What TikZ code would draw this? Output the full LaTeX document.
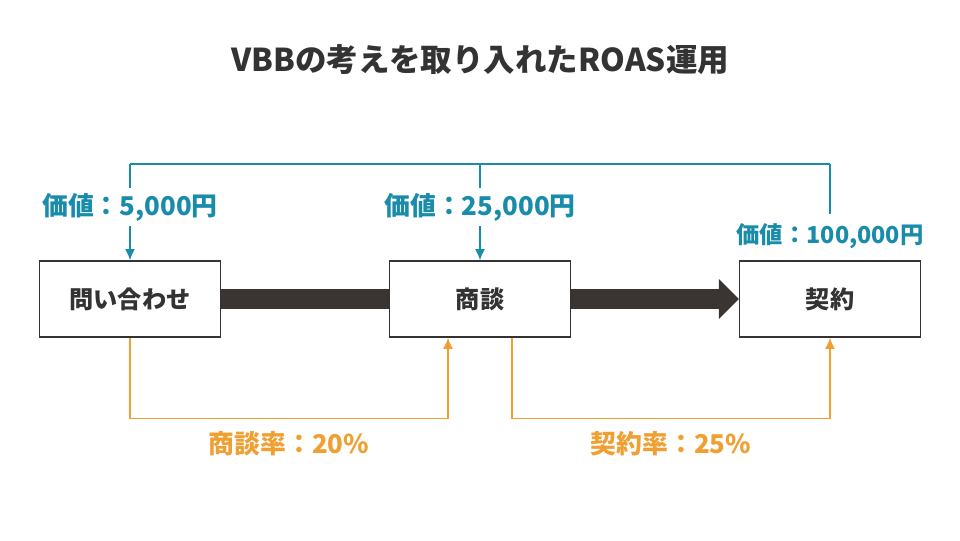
\documentclass[tikz,border=0pt]{standalone}
\usepackage{fontspec}
\setmainfont{Noto Sans CJK JP}
\usetikzlibrary{positioning,arrows.meta}
\definecolor{textdark}{HTML}{333333}
\definecolor{bardark}{HTML}{3A3432}
\definecolor{valblue}{HTML}{1A8CAB}
\definecolor{rateorange}{HTML}{F0A032}

\begin{document}
\begin{tikzpicture}[line width=1.1pt,>={Latex[length=2.8mm,width=2.5mm]},
  box/.style={draw=textdark,line width=1pt,fill=white,minimum width=4.525cm,minimum height=1.9cm,
    font=\fontsize{17.2}{19}\selectfont\bfseries,text=textdark},
  val/.style={text=valblue,font=\fontsize{18.4}{20}\selectfont\bfseries,inner sep=0pt,minimum height=0.92cm},
  rate/.style={text=rateorange,font=\fontsize{18.4}{20}\selectfont\bfseries,inner sep=0pt}]
  \fill[white] (0,0) rectangle (24,13.5);
  \useasboundingbox (0,0) rectangle (24,13.5);
  % titulo
  \node[font=\fontsize{22.4}{25}\selectfont\bfseries,text=textdark] (title) at (12,12.0) {VBBの考えを取り入れたROAS運用};
  % etapas
  \node[box] (inq) at (3.25,6.025) {問い合わせ};
  \node[box] (deal) at (12,6.025) {商談};
  \node[box] (cont) at (20.75,6.025) {契約};
  \draw[bardark,line width=0.5cm] (inq) -- (deal);
  \draw[bardark,line width=0.5cm,-{Triangle[length=0.5cm,width=0.975cm]}] (deal) -- (cont);
  % valor
  \coordinate (t1) at (3.25,9.4);
  \coordinate (t2) at (12,9.4);
  \coordinate (t3) at (20.75,9.4);
  \node[val] (v1) at (3.25,8.325) {価値：5,000円};
  \node[val] (v2) at (12,8.325) {価値：25,000円};
  \node[val,font=\fontsize{16.6}{18}\selectfont\bfseries,minimum height=1.05cm] (v3) at (20.75,7.6) {価値：100,000円};
  \draw[valblue] (t1) -- (t3);
  \draw[valblue] (t1) -- (v1);
  \draw[valblue,->] (v1) -- (inq);
  \draw[valblue] (t2) -- (v2);
  \draw[valblue,->] (v2) -- (deal);
  \draw[valblue] (t3) -- (v3);
  % tasas
  \draw[rateorange,->] (inq.south) -- ++(0,-2.025)
    -| node[rate,pos=0.25,yshift=-0.625cm] (r1) {商談率：20\%} ([xshift=-0.8cm]deal.south);
  \draw[rateorange,->] ([xshift=0.8cm]deal.south) -- ++(0,-2.025)
    -| node[rate,pos=0.25,yshift=-0.625cm] (r2) {契約率：25\%} (cont.south);
\end{tikzpicture}
\end{document}
